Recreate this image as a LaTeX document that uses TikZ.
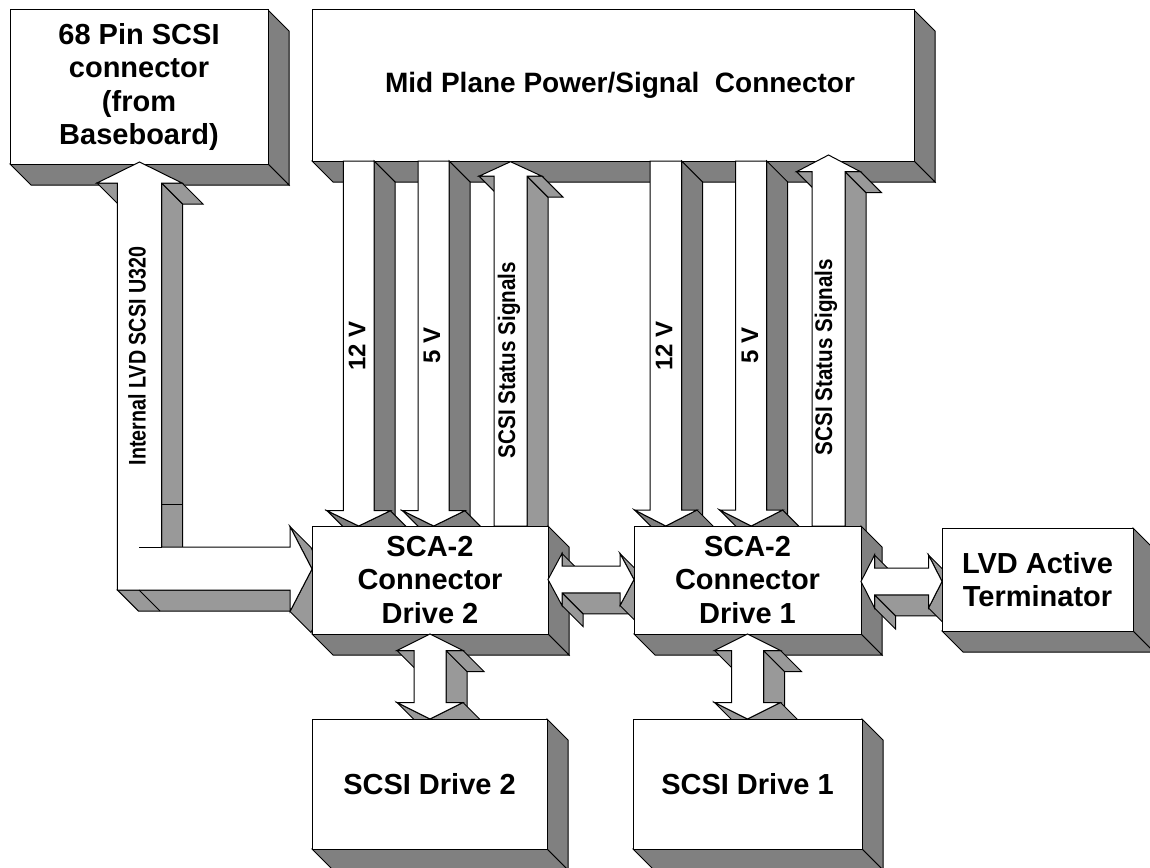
\documentclass[tikz,border=0pt]{standalone}
\usepackage{fontspec}
\usepackage{graphicx}
\setmainfont{Liberation Sans}
\definecolor{boxside}{HTML}{808080}
\definecolor{arrdark}{HTML}{808080}
\definecolor{arrlight}{HTML}{999999}
\tikzset{
  sideface/.style={draw=black, line width=1pt, line join=miter},
  frontface/.style={draw=black, fill=white, line width=1pt, line join=miter},
  boxtext/.style={font=\bfseries\fontsize{29}{33.5}\selectfont, align=center},
  vlabel/.style={font=\bfseries\fontsize{24}{24}\selectfont, rotate=90, inner sep=0pt},
}
% 3D box: name, x1, y1, x2, y2, text
\newcommand{\threebox}[6]{%
  \filldraw[sideface, fill=boxside] (#4,#3) -- ++(21,21) -- ({#4+21},{#5+21}) -- (#4,#5) -- cycle;
  \filldraw[sideface, fill=boxside] (#2,#5) -- (#4,#5) -- ++(21,21) -- ({#2+21},{#5+21}) -- cycle;
  \node[frontface, boxtext, minimum width={#4-#2}, minimum height={#5-#3}, inner sep=0pt, outer sep=0pt]
    (#1) at ({(#2+#4)/2},{(#3+#5)/2}) {#6};
}
% down arrow: cx, ytop, ytip, sw, hw, hl, colour
\newcommand{\darrow}[7]{%
  \pgfmathsetmacro\Dyb{#3-#6}%
  \pgfmathsetmacro\Dxl{#1-#4}\pgfmathsetmacro\Dxr{#1+#4}%
  \pgfmathsetmacro\Dhl{#1-#5}\pgfmathsetmacro\Dhr{#1+#5}%
  \filldraw[sideface, fill=#7] (\Dxr,#2) -- ++(21,21) -- ({\Dxr+21},{\Dyb+21}) -- (\Dxr,\Dyb) -- cycle;
  \filldraw[sideface, fill=#7] (#1,#3) -- (\Dhl,\Dyb) -- ++(21,21) -- ({#1+21},{#3+21}) -- cycle;
  \filldraw[sideface, fill=#7] (\Dhr,\Dyb) -- (#1,#3) -- ++(21,21) -- ({\Dhr+21},{\Dyb+21}) -- cycle;
  \filldraw[frontface] (\Dxl,#2) -- (\Dxr,#2) -- (\Dxr,\Dyb) -- (\Dhr,\Dyb) -- (#1,#3) -- (\Dhl,\Dyb) -- (\Dxl,\Dyb) -- cycle;
}
% up arrow: cx, ytip, ybot, sw, hw, hl, colour
\newcommand{\uarrow}[7]{%
  \pgfmathsetmacro\Uyb{#2+#6}%
  \pgfmathsetmacro\Uxl{#1-#4}\pgfmathsetmacro\Uxr{#1+#4}%
  \pgfmathsetmacro\Uhl{#1-#5}\pgfmathsetmacro\Uhr{#1+#5}%
  \filldraw[sideface, fill=#7] (\Uhl,\Uyb) -- (\Uxl,\Uyb) -- ++(21,21) -- ({\Uhl+21},{\Uyb+21}) -- cycle;
  \filldraw[sideface, fill=#7] (\Uxr,\Uyb) -- (\Uxr,#3) -- ++(21,21) -- ({\Uxr+21},{\Uyb+21}) -- cycle;
  \filldraw[sideface, fill=#7] (\Uxr,\Uyb) -- (\Uhr,\Uyb) -- ++(21,21) -- ({\Uxr+21},{\Uyb+21}) -- cycle;
  \filldraw[frontface] (#1,#2) -- (\Uhr,\Uyb) -- (\Uxr,\Uyb) -- (\Uxr,#3) -- (\Uxl,#3) -- (\Uxl,\Uyb) -- (\Uhl,\Uyb) -- cycle;
}
% horizontal double arrow: xL, xR, cy, sh, hh, hl, colour
\newcommand{\hdarrow}[7]{%
  \pgfmathsetmacro\Hla{#1+#6}\pgfmathsetmacro\Hra{#2-#6}%
  \pgfmathsetmacro\Hst{#3-#4}\pgfmathsetmacro\Hsb{#3+#4}%
  \pgfmathsetmacro\Hht{#3-#5}\pgfmathsetmacro\Hhb{#3+#5}%
  \filldraw[sideface, fill=#7] (\Hla,\Hht) -- (\Hla,\Hst) -- ++(21,21) -- ({\Hla+21},{\Hht+21}) -- cycle;
  \filldraw[sideface, fill=#7] (\Hla,\Hsb) -- (\Hra,\Hsb) -- ++(21,21) -- ({\Hla+21},{\Hsb+21}) -- cycle;
  \filldraw[sideface, fill=#7] (\Hla,\Hsb) -- (\Hla,\Hhb) -- ++(21,21) -- ({\Hla+21},{\Hsb+21}) -- cycle;
  \filldraw[sideface, fill=#7] (\Hra,\Hht) -- (#2,#3) -- ++(21,21) -- ({\Hra+21},{\Hht+21}) -- cycle;
  \filldraw[sideface, fill=#7] (#2,#3) -- (\Hra,\Hhb) -- ++(21,21) -- ({#2+21},{#3+21}) -- cycle;
  \filldraw[frontface] (#1,#3) -- (\Hla,\Hht) -- (\Hla,\Hst) -- (\Hra,\Hst) -- (\Hra,\Hht) -- (#2,#3)
     -- (\Hra,\Hhb) -- (\Hra,\Hsb) -- (\Hla,\Hsb) -- (\Hla,\Hhb) -- cycle;
}
% vertical double arrow: cx, yT, yB, sw, hw, hl, colour
\newcommand{\vdarrow}[7]{%
  \pgfmathsetmacro\Vta{#2+#6}\pgfmathsetmacro\Vba{#3-#6}%
  \pgfmathsetmacro\Vsl{#1-#4}\pgfmathsetmacro\Vsr{#1+#4}%
  \pgfmathsetmacro\Vhl{#1-#5}\pgfmathsetmacro\Vhr{#1+#5}%
  \filldraw[sideface, fill=#7] (\Vhl,\Vta) -- (\Vsl,\Vta) -- ++(21,21) -- ({\Vhl+21},{\Vta+21}) -- cycle;
  \filldraw[sideface, fill=#7] (\Vsr,\Vta) -- (\Vsr,\Vba) -- ++(21,21) -- ({\Vsr+21},{\Vta+21}) -- cycle;
  \filldraw[sideface, fill=#7] (\Vsr,\Vta) -- (\Vhr,\Vta) -- ++(21,21) -- ({\Vsr+21},{\Vta+21}) -- cycle;
  \filldraw[sideface, fill=#7] (#1,#3) -- (\Vhl,\Vba) -- ++(21,21) -- ({#1+21},{#3+21}) -- cycle;
  \filldraw[sideface, fill=#7] (\Vhr,\Vba) -- (#1,#3) -- ++(21,21) -- ({\Vhr+21},{\Vba+21}) -- cycle;
  \filldraw[frontface] (#1,#2) -- (\Vhr,\Vta) -- (\Vsr,\Vta) -- (\Vsr,\Vba) -- (\Vhr,\Vba) -- (#1,#3)
     -- (\Vhl,\Vba) -- (\Vsl,\Vba) -- (\Vsl,\Vta) -- (\Vhl,\Vta) -- cycle;
}
\begin{document}
\begin{tikzpicture}[x=1pt,y=-1pt]
\useasboundingbox (0,0) rectangle (1150,867);
\fill[white] (0,0) rectangle (1150,867);
\clip (0,0) rectangle (1150,867);

\threebox{mid}{312}{10}{914}{161}{\fontsize{28}{32}\selectfont\hspace*{14pt}Mid Plane Power/Signal\ \ Connector}
\threebox{pin}{10}{10}{268}{164}{68 Pin SCSI\\connector\\(from\\Baseboard)}

% L-shaped internal LVD SCSI arrow
\filldraw[sideface, fill=arrlight] (97,183) -- (117.3,183) -- ++(21,21) -- (118,204) -- cycle;
\filldraw[sideface, fill=arrlight] (161.7,183) -- (161.7,547) -- ++(21,21) -- (182.7,204) -- cycle;
\filldraw[sideface, fill=arrlight] (161.7,183) -- (182,183) -- ++(21,21) -- (182.7,204) -- cycle;
\filldraw[sideface, fill=arrlight] (117.3,590) -- (290,590) -- ++(21,21) -- (138.3,611) -- cycle;
\filldraw[sideface, fill=arrlight] (290,526.5) -- (312,569) -- ++(21,21) -- (311,547.5) -- cycle;
\filldraw[sideface, fill=arrlight] (312,569) -- (290,611.5) -- ++(21,21) -- (333,590) -- cycle;
\filldraw[frontface] (139.5,162) -- (182,183) -- (161.7,183) -- (161.7,547) -- (290,547) -- (290,526.5)
   -- (312,569) -- (290,611.5) -- (290,590) -- (117.3,590) -- (117.3,183) -- (97,183) -- cycle;
\draw[sideface] (161.7,504) -- (182.7,504);
\draw[sideface] (139,590) -- (160,611);
\draw[sideface] (139,547) -- (161.7,547);

% arrows between mid plane and SCA-2 connectors
\darrow{358.7}{161}{526}{15.4}{31.7}{15.3}{arrdark}
\darrow{433.7}{161}{526}{15.5}{31.2}{15.3}{arrdark}
\uarrow{510.5}{161.7}{526}{16.5}{31.5}{14.5}{arrlight}
\darrow{665.8}{161}{526}{15.8}{31.2}{16}{arrdark}
\darrow{751.2}{161}{526}{15.5}{31.5}{16}{arrdark}
\uarrow{828.5}{155}{526}{16.5}{32}{16.7}{arrlight}

\threebox{scad2}{312}{526}{548}{634}{SCA-2\\Connector\\Drive 2}
\hdarrow{548}{634}{579.5}{13.3}{26}{14}{arrlight}
\threebox{scad1}{634}{526}{861}{634}{SCA-2\\Connector\\Drive 1}
\hdarrow{861}{942}{581.5}{13.3}{26.5}{13.5}{arrlight}
\threebox{term}{942}{528}{1133}{631}{LVD Active\\Terminator}

\vdarrow{430}{634}{719}{16}{33}{16.5}{arrlight}
\vdarrow{747.5}{634}{719}{16}{33}{16.5}{arrlight}
\threebox{drv2}{312}{719}{547}{849}{SCSI Drive 2}
\threebox{drv1}{633}{719}{862}{849}{SCSI Drive 1}

% rotated labels
\node[vlabel] (lvdlab) at (137,356) {\scalebox{0.82}[1]{Internal LVD SCSI U320}};
\node[vlabel] (v12a) at (357,346) {12 V};
\node[vlabel] (v5a) at (432,345) {5 V};
\node[vlabel] (stata) at (509,360) {\scalebox{0.86}[1]{SCSI Status Signals}};
\node[vlabel] (v12b) at (664,346) {12 V};
\node[vlabel] (v5b) at (750,345) {5 V};
\node[vlabel] (statb) at (826,357) {\scalebox{0.86}[1]{SCSI Status Signals}};
\end{tikzpicture}
\end{document}
